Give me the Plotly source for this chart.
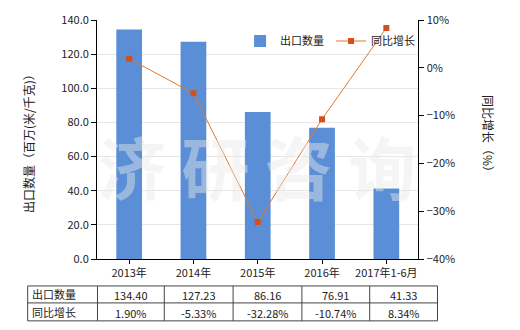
import plotly.graph_objects as go
from plotly.subplots import make_subplots

categories = ["2013年", "2014年", "2015年", "2016年", "2017年1-6月"]
export_qty = [134.40, 127.23, 86.16, 76.91, 41.33]
yoy_growth = [1.90, -5.33, -32.28, -10.74, 8.34]
qty_labels = ["134.40", "127.23", "86.16", "76.91", "41.33"]
yoy_labels = ["1.90%", "-5.33%", "-32.28%", "-10.74%", "8.34%"]
row_names = ["出口数量", "同比增长"]

W, H = 520, 330
L, R, T, B = 96.5, 439.5, 19.5, 259
FONT = "Noto Sans CJK SC, Noto Sans, sans-serif"

def px(x):
    return (x - L) / (R - L)

def py(y):
    return (B - y) / (B - T)

fig = make_subplots(specs=[[{"secondary_y": True}]])
fig.add_trace(go.Bar(x=categories, y=export_qty, name="出口数量",
                     marker=dict(color="#5A8ED6", line=dict(width=0))),
              secondary_y=False)
fig.add_trace(go.Scatter(x=categories, y=yoy_growth, name="同比增长",
                         mode="lines+markers",
                         line=dict(color="#E2782E", width=1),
                         marker=dict(symbol="square", size=6, color="#D4501A")),
              secondary_y=True)

fig.update_layout(
    width=W, height=H,
    margin=dict(l=L, r=W - R, t=T, b=H - B),
    paper_bgcolor="white", plot_bgcolor="white",
    bargap=0.6,
    font=dict(family=FONT, size=11, color="#222"),
    showlegend=True,
    legend=dict(orientation="h", x=px(240), y=py(26), xanchor="left", yanchor="top",
                bgcolor="rgba(0,0,0,0)", font=dict(size=11, color="#222"),
                itemwidth=30, tracegroupgap=0, entrywidth=46, entrywidthmode="pixels"),
)
fig.update_xaxes(showline=True, linecolor="#000", linewidth=1,
                 ticks="outside", ticklen=4, tickcolor="#000",
                 tickfont=dict(size=11, color="#222"), showgrid=False)
fig.update_yaxes(range=[0, 140], dtick=20, tickformat=".1f",
                 showline=True, linecolor="#000", linewidth=1,
                 ticks="outside", ticklen=5, tickcolor="#000",
                 gridcolor="#E6E6E6", gridwidth=1, zeroline=False,
                 tickfont=dict(size=11, color="#222"), secondary_y=False)
fig.update_yaxes(range=[-40, 10], dtick=10, ticksuffix="%",
                 showline=True, linecolor="#000", linewidth=1,
                 ticks="outside", ticklen=5, tickcolor="#000",
                 showgrid=False, zeroline=False,
                 tickfont=dict(size=11, color="#222"), secondary_y=True)

ann = []
# watermark
ann.append(dict(text="<b>济 研 咨 询</b>", x=px(257), y=py(165), xref="paper", yref="paper",
                showarrow=False, font=dict(size=68, color="rgba(232,232,232,0.45)", family=FONT),
                xanchor="center", yanchor="middle"))
# axis titles
ann.append(dict(text="出口数量（百万(米/千克)）", x=px(28), y=py(140), xref="paper", yref="paper",
                showarrow=False, textangle=-90, font=dict(size=12, color="#222"),
                xanchor="center", yanchor="middle"))
ann.append(dict(text="同比增长（%）", x=px(489), y=py(136), xref="paper", yref="paper",
                showarrow=False, textangle=90, font=dict(size=12, color="#222"),
                xanchor="center", yanchor="middle"))

# table
shapes = []
tx0, tx1 = 27, 438
ty = [286, 303, 321]
cols = [27, 97, 164, 233, 302, 370, 438]
for yy in ty:
    shapes.append(dict(type="line", xref="paper", yref="paper",
                       x0=px(tx0), x1=px(tx1), y0=py(yy), y1=py(yy),
                       line=dict(color="#444", width=1)))
for xx in cols:
    shapes.append(dict(type="line", xref="paper", yref="paper",
                       x0=px(xx), x1=px(xx), y0=py(ty[0]), y1=py(ty[-1]),
                       line=dict(color="#444", width=1)))
rows = [qty_labels, yoy_labels]
for r, (name, vals) in enumerate(zip(row_names, rows)):
    yc = (ty[r] + ty[r + 1]) / 2
    ann.append(dict(text=name, x=px(29), y=py(yc), xref="paper", yref="paper",
                    showarrow=False, xanchor="left", yanchor="middle",
                    font=dict(size=11, color="#222")))
    for c, v in enumerate(vals):
        xc = (cols[c + 1] + cols[c + 2]) / 2
        ann.append(dict(text=v, x=px(xc), y=py(yc + 1), xref="paper", yref="paper",
                        showarrow=False, xanchor="center", yanchor="middle",
                        font=dict(size=11, color="#222")))

fig.update_layout(annotations=ann, shapes=shapes)
fig.write_html("out.html")
